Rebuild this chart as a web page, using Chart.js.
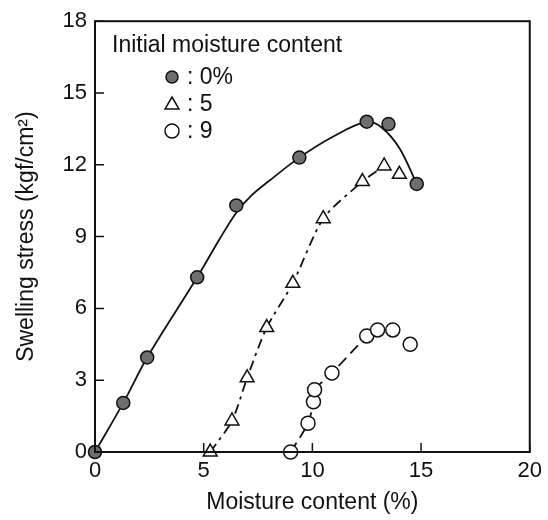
<!DOCTYPE html>
<html>
<head>
<meta charset="utf-8">
<script src="https://cdn.jsdelivr.net/npm/chart.js@4.4.0/dist/chart.umd.min.js"></script>
<style>
    html, body { margin: 0; padding: 0; background: #fff; }
    #wrap { width: 548px; height: 520px; position: relative; }
</style>
</head>
<body>
<div id="wrap"><canvas id="swellChart" width="548" height="520"></canvas></div>
<script>
// Swelling stress vs moisture content, three initial moisture contents

const seriesLabels = [': 0%', ': 5', ': 9'];

// initial moisture 0%
const dryX = [0, 1.3, 2.4, 4.7, 6.5, 9.4, 12.5, 13.5, 14.8];
const dryY = [0, 2.05, 3.95, 7.3, 10.3, 12.3, 13.8, 13.7, 11.2];

// initial moisture 5%
const fiveX = [5.3, 6.3, 7.0, 7.9, 9.1, 10.5, 12.3, 13.3, 14.0];
const fiveY = [0, 1.3, 3.1, 5.2, 7.05, 9.75, 11.3, 11.95, 11.6];

// initial moisture 9%
const nineX = [9.0, 9.8, 10.05, 10.1, 10.9, 12.5, 13.0, 13.7, 14.5];
const nineY = [0, 1.2, 2.1, 2.6, 3.3, 4.85, 5.1, 5.1, 4.5];

// hand-drawn curve for 0%
const dryCurveX = [0, 1.3, 2.4, 4.7, 5.7, 6.5, 7.2, 8.0, 9.4, 10.9, 12.5, 13.2, 14.0, 14.8];
const dryCurveY = [0, 2.05, 3.95, 7.3, 8.85, 10.0, 10.72, 11.32, 12.3, 13.15, 13.8, 13.55, 12.7, 11.2];

// how many markers the dashed curves run through (the rest stand alone)
const fiveCurveCount = 8;
const nineCurveCount = 6;

const xTicks = [0, 5, 10, 15, 20];
const yTicks = [0, 3, 6, 9, 12, 15, 18];

const FONT = '"Liberation Sans", Arial, Helvetica, sans-serif';

function toPoints(xs, ys, n) {
    const count = n === undefined ? xs.length : n;
    return xs.slice(0, count).map((x, i) => ({ x: x, y: ys[i] }));
}

function markerSet(label, xs, ys, style, fill, radius) {
    return {
        label: label,
        data: toPoints(xs, ys),
        showLine: false,
        pointStyle: style,
        pointRadius: radius,
        pointBackgroundColor: fill,
        pointBorderColor: '#111',
        pointBorderWidth: 1.5,
        order: 0
    };
}

function curveSet(xs, ys, n, dash, tension) {
    return {
        label: 'curve',
        data: toPoints(xs, ys, n),
        showLine: true,
        borderColor: '#111',
        borderWidth: 1.8,
        borderDash: dash,
        tension: tension,
        pointRadius: 0,
        fill: false,
        order: 1
    };
}

// frame, inward ticks, legend
const framePlugin = {
    id: 'frame',
    afterDatasetsDraw(chart) {
        const ctx = chart.ctx;
        const a = chart.chartArea;
        const xs = chart.scales.x;
        const ys = chart.scales.y;
        ctx.save();
        ctx.strokeStyle = '#111';
        ctx.lineWidth = 2;
        ctx.strokeRect(a.left, a.top, a.right - a.left, a.bottom - a.top);
        ctx.lineWidth = 1.5;
        ctx.beginPath();
        xTicks.forEach(v => {
            const px = xs.getPixelForValue(v);
            ctx.moveTo(px, a.bottom);
            ctx.lineTo(px, a.bottom - 9);
        });
        yTicks.forEach(v => {
            const py = ys.getPixelForValue(v);
            ctx.moveTo(a.left, py);
            ctx.lineTo(a.left + 9, py);
        });
        ctx.stroke();

        // legend
        ctx.fillStyle = '#111';
        ctx.font = '23px ' + FONT;
        ctx.textBaseline = 'middle';
        ctx.textAlign = 'left';
        ctx.fillText('Initial moisture content', 112, 46);
        const rowsY = [77, 104, 131];
        const styles = ['circle', 'triangle', 'circle'];
        const fills = ['#6e6e6e', '#fff', '#fff'];
        seriesLabels.forEach((lab, i) => {
            const cx = 172, cy = rowsY[i];
            ctx.lineWidth = 1.5;
            ctx.strokeStyle = '#111';
            ctx.fillStyle = fills[i];
            ctx.beginPath();
            if (styles[i] === 'triangle') {
                ctx.moveTo(cx, cy - 7);
                ctx.lineTo(cx + 7, cy + 5);
                ctx.lineTo(cx - 7, cy + 5);
                ctx.closePath();
            } else {
                ctx.arc(cx, cy, i === 0 ? 6 : 7, 0, Math.PI * 2);
            }
            ctx.fill();
            ctx.stroke();
            ctx.fillStyle = '#111';
            ctx.fillText(lab, 187, cy + 1);
        });
        ctx.restore();
    }
};

new Chart(document.getElementById('swellChart'), {
    type: 'scatter',
    data: {
        datasets: [
            markerSet(seriesLabels[0], dryX, dryY, 'circle', '#6e6e6e', 6.5),
            markerSet(seriesLabels[1], fiveX, fiveY, 'triangle', '#fff', 8),
            markerSet(seriesLabels[2], nineX, nineY, 'circle', '#fff', 7),
            curveSet(dryCurveX, dryCurveY, undefined, [], 0.35),
            curveSet(fiveX, fiveY, fiveCurveCount, [10, 5, 3, 5], 0.25),
            curveSet(nineX, nineY, nineCurveCount, [11, 6], 0.25)
        ]
    },
    options: {
        responsive: false,
        animation: false,
        clip: false,
        layout: { padding: { top: 17, right: 16, left: 9, bottom: 0 } },
        plugins: {
            legend: { display: false },
            tooltip: { enabled: false }
        },
        scales: {
            x: {
                type: 'linear',
                min: 0,
                max: 20,
                afterBuildTicks: s => { s.ticks = xTicks.map(v => ({ value: v })); },
                afterFit: s => { s.height = 68; },
                grid: { display: false, drawTicks: false },
                border: { display: false },
                ticks: { color: '#111', padding: 6, font: { size: 22, family: FONT } },
                title: {
                    display: true,
                    text: 'Moisture content (%)',
                    color: '#111',
                    padding: { top: 2 },
                    font: { size: 23, family: FONT }
                }
            },
            y: {
                type: 'linear',
                min: 0,
                max: 18,
                afterBuildTicks: s => { s.ticks = yTicks.map(v => ({ value: v })); },
                afterFit: s => { s.width = 86; },
                grid: { display: false, drawTicks: false },
                border: { display: false },
                ticks: { color: '#111', padding: 8, font: { size: 22, family: FONT } },
                title: {
                    display: true,
                    text: 'Swelling stress (kgf/cm²)',
                    color: '#111',
                    padding: { bottom: 2 },
                    font: { size: 23, family: FONT }
                }
            }
        }
    },
    plugins: [framePlugin]
});
</script>
</body>
</html>
